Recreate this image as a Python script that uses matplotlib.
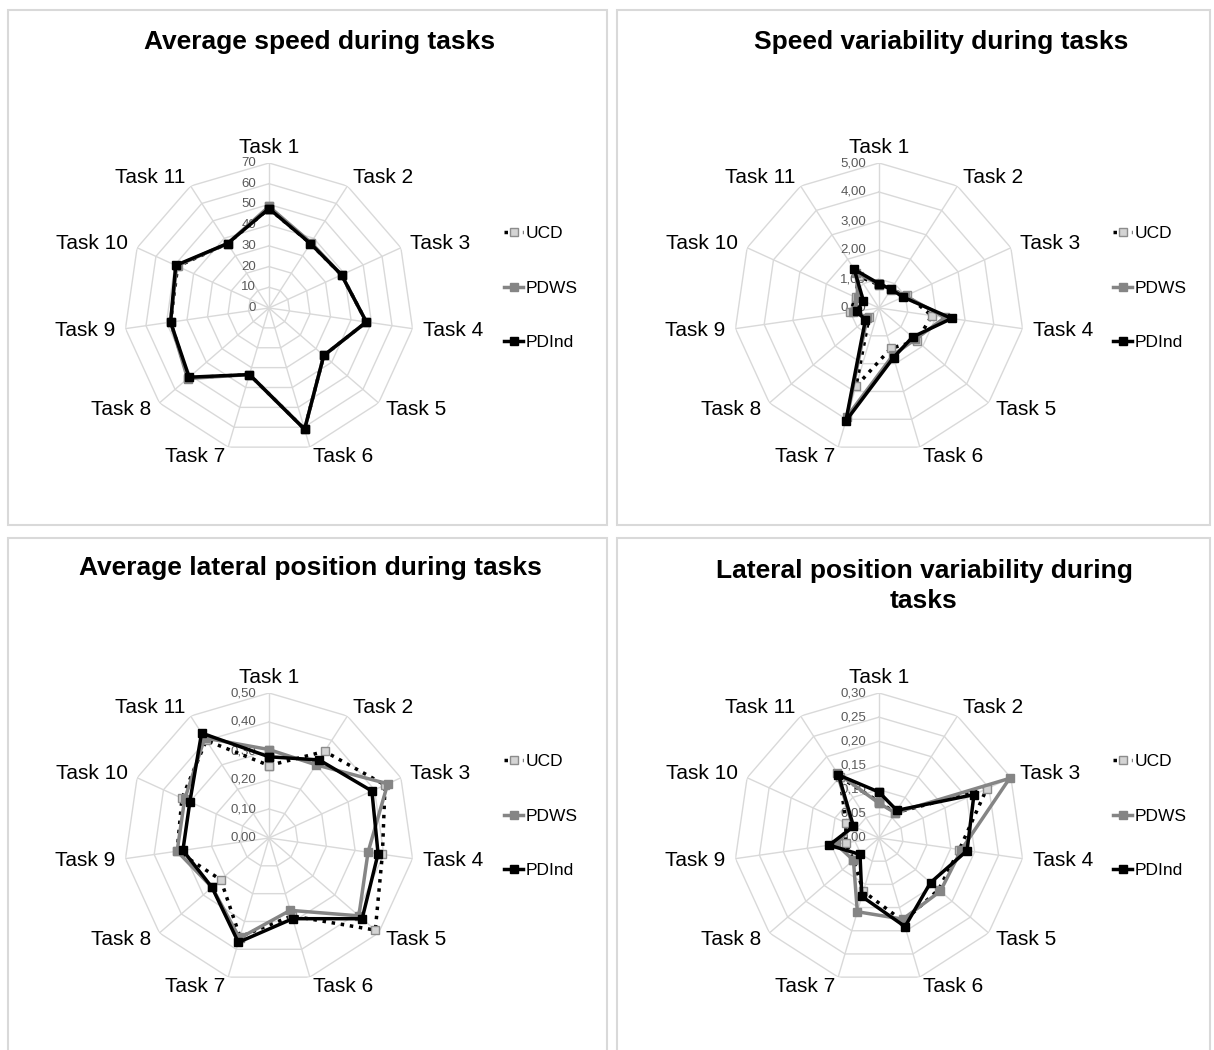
import numpy as np
import matplotlib
matplotlib.use('Agg')
import matplotlib.pyplot as plt
from matplotlib.patches import Rectangle

plt.rcParams['font.family'] = ['Liberation Sans', 'DejaVu Sans']

tasks = ['Task 1', 'Task 2', 'Task 3', 'Task 4', 'Task 5', 'Task 6',
         'Task 7', 'Task 8', 'Task 9', 'Task 10', 'Task 11']
groups = ['UCD', 'PDWS', 'PDInd']

# average speed
speed_ucd = [48, 37, 38.5, 47.5, 35, 61, 33.5, 51.5, 48, 48.5, 37]
speed_pdws = [49, 37.5, 38.5, 47.5, 35, 61, 33.5, 52, 48, 49, 37]
speed_pdind = [48, 37, 38.5, 47.5, 35, 61, 33.5, 51, 48, 49.5, 37]
speed_ticks = [0, 10, 20, 30, 40, 50, 60, 70]
speed_ticklabels = ['0', '10', '20', '30', '40', '50', '60', '70']

# speed variability
spvar_ucd = [0.80, 0.75, 1.05, 1.84, 1.73, 1.45, 2.82, 0.45, 1.00, 0.88, 1.30]
spvar_pdws = [0.82, 0.78, 1.00, 2.30, 1.65, 1.70, 3.90, 0.55, 0.90, 0.80, 1.45]
spvar_pdind = [0.84, 0.77, 0.91, 2.53, 1.53, 1.78, 4.06, 0.62, 0.78, 0.59, 1.58]
spvar_ticks = [0, 1, 2, 3, 4, 5]
spvar_ticklabels = ['0,00', '1,00', '2,00', '3,00', '4,00', '5,00']

# average lateral position
lat_ucd = [0.25, 0.355, 0.44, 0.395, 0.485, 0.28, 0.355, 0.22, 0.32, 0.33, 0.40]
lat_pdws = [0.305, 0.30, 0.45, 0.345, 0.41, 0.26, 0.36, 0.26, 0.32, 0.32, 0.41]
lat_pdind = [0.28, 0.32, 0.39, 0.38, 0.425, 0.29, 0.375, 0.26, 0.30, 0.30, 0.43]
lat_ticks = [0, 0.1, 0.2, 0.3, 0.4, 0.5]
lat_ticklabels = ['0,00', '0,10', '0,20', '0,30', '0,40', '0,50']

# lateral position variability
latvar_ucd = [0.075, 0.062, 0.245, 0.168, 0.163, 0.18, 0.115, 0.07, 0.07, 0.075, 0.15]
latvar_pdws = [0.072, 0.062, 0.297, 0.172, 0.168, 0.175, 0.159, 0.07, 0.09, 0.06, 0.16]
latvar_pdind = [0.095, 0.068, 0.216, 0.184, 0.141, 0.191, 0.126, 0.052, 0.104, 0.058, 0.155]
latvar_ticks = [0, 0.05, 0.10, 0.15, 0.20, 0.25, 0.30]
latvar_ticklabels = ['0,00', '0,05', '0,10', '0,15', '0,20', '0,25', '0,30']

W, H = 1214, 1050
fig = plt.figure(figsize=(W / 100, H / 100), dpi=100)

# panel frames
for x0, y0, x1, y1 in [(8, 10, 607, 525), (617, 10, 1210, 525),
                       (8, 538, 607, 1060), (617, 538, 1210, 1060)]:
    fig.add_artist(Rectangle((x0 / W, 1 - y1 / H), (x1 - x0) / W, (y1 - y0) / H,
                             transform=fig.transFigure, fill=False,
                             edgecolor='#d9d9d9', lw=1.5))

angles = np.arange(len(tasks)) * 2 * np.pi / len(tasks)
closed = np.append(angles, angles[0])
R = 145

styles = [
    dict(color='black', ls=':', lw=2.5, marker='s', ms=6,
         mfc='#d4d4d4', mec='#8c8c8c', mew=1),
    dict(color='#858585', ls='-', lw=2.5, marker='s', ms=6,
         mfc='#858585', mec='#858585'),
    dict(color='black', ls='-', lw=2.5, marker='s', ms=6,
         mfc='black', mec='black'),
]


def radar(cx, cy, series, ticks, ticklabels, legend_x, legend_y):
    ax = fig.add_axes([(cx - R) / W, 1 - (cy + R) / H, 2 * R / W, 2 * R / H],
                      projection='polar')
    ax.set_theta_zero_location('N')
    ax.set_theta_direction(-1)
    rmax = ticks[-1]
    ax.set_ylim(0, rmax)
    ax.grid(False)
    ax.set_xticks([])
    ax.set_yticks([])
    ax.spines['polar'].set_visible(False)
    ax.patch.set_alpha(0)
    for t in ticks[1:]:
        ax.plot(closed, [t] * len(closed), color='#d9d9d9', lw=1, zorder=1)
    for a in angles:
        ax.plot([a, a], [0, rmax], color='#d9d9d9', lw=1, zorder=1)
    for t, lbl in zip(ticks, ticklabels):
        ax.annotate(lbl, xy=(0, t), xytext=(-13, 0), textcoords='offset pixels',
                    ha='right', va='center', fontsize=9.5, color='#595959', zorder=2)
    for a, name in zip(angles, tasks):
        s = np.sin(a)
        if abs(s) < 0.1:
            ax.text(a, rmax * 1.04, name, ha='center', va='bottom', fontsize=15)
        else:
            ax.text(a, rmax * 1.07, name, ha='left' if s > 0 else 'right',
                    va='center', fontsize=15)
    lines = []
    for vals, st, g in zip(series, styles, groups):
        ln, = ax.plot(closed, list(vals) + [vals[0]], label=g, clip_on=False,
                      zorder=3, **st)
        lines.append(ln)
    ax.legend(handles=lines, loc='center left',
              bbox_to_anchor=(legend_x / W, 1 - legend_y / H),
              bbox_transform=fig.transFigure, frameon=False, fontsize=12.5,
              handlelength=1.1, handletextpad=0.15, labelspacing=2.25,
              borderpad=0, borderaxespad=0, numpoints=1)
    return ax


radar(269, 308, [speed_ucd, speed_pdws, speed_pdind], speed_ticks,
      speed_ticklabels, 504, 288)
radar(879, 308, [spvar_ucd, spvar_pdws, spvar_pdind], spvar_ticks,
      spvar_ticklabels, 1113, 288)
radar(269, 838, [lat_ucd, lat_pdws, lat_pdind], lat_ticks,
      lat_ticklabels, 504, 816)
radar(879, 838, [latvar_ucd, latvar_pdws, latvar_pdind], latvar_ticks,
      latvar_ticklabels, 1113, 816)

fig.text(320 / W, 1 - 42 / H, 'Average speed during tasks', ha='center',
         va='center', fontsize=19, fontweight='bold')
fig.text(941 / W, 1 - 42 / H, 'Speed variability during tasks', ha='center',
         va='center', fontsize=19, fontweight='bold')
fig.text(310 / W, 1 - 568 / H, 'Average lateral position during tasks',
         ha='center', va='center', fontsize=19, fontweight='bold')
fig.text(924 / W, 1 - 586 / H, 'Lateral position variability during\ntasks',
         ha='center', va='center', fontsize=19, fontweight='bold',
         linespacing=1.3)

fig.savefig('out.png', dpi=100)
